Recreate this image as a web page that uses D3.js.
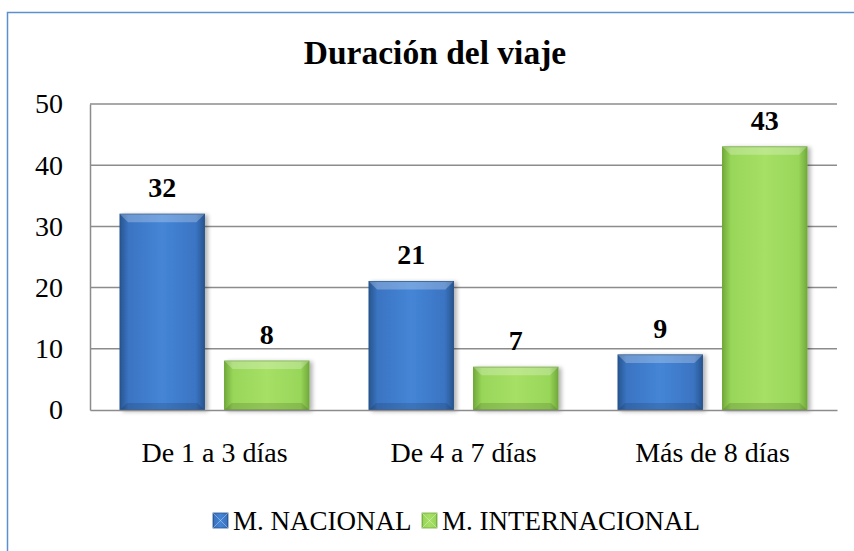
<!DOCTYPE html>
<html>
<head>
<meta charset="utf-8">
<title>Duración del viaje</title>
<script src="https://d3js.org/d3.v7.min.js"></script>
<style>
  body { margin: 0; background: #fff; }
  text { font-family: "Liberation Serif", "Times New Roman", serif; fill: #000; }
</style>
</head>
<body>
<div id="chart"></div>
<script>
let w = 854, h = 551;

let categories = ["De 1 a 3 días", "De 4 a 7 días", "Más de 8 días"];
let series = ["M. NACIONAL", "M. INTERNACIONAL"];
let nacional = [32, 21, 9];
let internacional = [8, 7, 43];
let yTicks = [0, 10, 20, 30, 40, 50];

let values = [nacional, internacional];
let colors = [
  { light: "#4585d6", mid: "#3a74c2", dark: "#28558f" },
  { light: "#a6e065", mid: "#98d659", dark: "#72aa3c" }
];

let plot = { left: 90, right: 837, top: 104, bottom: 410 };
let serif = "'Liberation Serif', 'Times New Roman', serif";

let svg = d3.select("#chart").append("svg")
  .attr("width", w).attr("height", h);

// marco exterior (solo se ven arriba e izquierda)
svg.append("rect")
  .attr("x", 7.5).attr("y", 12.5)
  .attr("width", 900).attr("height", 600)
  .attr("fill", "none")
  .attr("stroke", "#5b8fd0")
  .attr("stroke-width", 1.5);

let defs = svg.append("defs");
colors.forEach(function(c, i) {
  let g = defs.append("linearGradient").attr("id", "grad" + i)
    .attr("x1", "0").attr("x2", "1").attr("y1", "0").attr("y2", "0");
  g.append("stop").attr("offset", "0%").attr("stop-color", c.dark);
  g.append("stop").attr("offset", "10%").attr("stop-color", c.mid);
  g.append("stop").attr("offset", "50%").attr("stop-color", c.light);
  g.append("stop").attr("offset", "90%").attr("stop-color", c.mid);
  g.append("stop").attr("offset", "100%").attr("stop-color", c.dark);
});
let sh = defs.append("filter").attr("id", "shadow")
  .attr("x", "-20%").attr("y", "-20%").attr("width", "150%").attr("height", "140%");
sh.append("feGaussianBlur").attr("in", "SourceAlpha").attr("stdDeviation", 2);
sh.append("feOffset").attr("dx", 3).attr("dy", 1).attr("result", "b");
sh.append("feComponentTransfer").append("feFuncA").attr("type", "linear").attr("slope", 0.3);
let m = sh.append("feMerge");
m.append("feMergeNode");
m.append("feMergeNode").attr("in", "SourceGraphic");

let x0 = d3.scaleBand().domain(categories).range([plot.left, plot.right]);
let x1 = d3.scaleBand().domain(series).range([30, x0.bandwidth() - 30])
  .paddingInner(0.192);
let y = d3.scaleLinear().domain([0, 50]).range([plot.bottom, plot.top]);

// titulo
svg.append("text")
  .attr("x", 435).attr("y", 64)
  .attr("text-anchor", "middle")
  .style("font-size", "33.5px")
  .style("font-weight", "bold")
  .text("Duración del viaje");

// lineas de division
svg.append("g").selectAll("line")
  .data(yTicks.filter(d => d > 0))
  .enter().append("line")
  .attr("x1", plot.left).attr("x2", plot.right)
  .attr("y1", d => y(d)).attr("y2", d => y(d))
  .attr("stroke", "#8c8c8c").attr("stroke-width", 1.5);

// eje y
let yAxis = svg.append("g")
  .attr("transform", "translate(" + plot.left + ",0)")
  .call(d3.axisLeft(y).tickValues(yTicks).tickSize(0).tickPadding(27));
yAxis.select(".domain").attr("stroke", "#8c8c8c").attr("stroke-width", 1.5);
yAxis.selectAll("text")
  .style("font-size", "28px")
  .style("font-family", serif)
  .attr("fill", "#000");

let rows = function(d, i) {
  return series.map(function(s, j) { return { s: s, j: j, v: values[j][i] }; });
};

// barras
let groups = svg.append("g").selectAll("g")
  .data(categories)
  .enter().append("g")
  .attr("transform", d => "translate(" + x0(d) + ",0)");

groups.selectAll("rect")
  .data(rows)
  .enter().append("rect")
  .attr("x", d => x1(d.s))
  .attr("y", d => y(d.v))
  .attr("width", x1.bandwidth())
  .attr("height", d => y(0) - y(d.v))
  .attr("fill", d => "url(#grad" + d.j + ")")
  .attr("stroke", d => colors[d.j].dark)
  .attr("stroke-width", 1)
  .attr("filter", "url(#shadow)");

// bisel superior e inferior
groups.selectAll("path.bevel")
  .data(rows)
  .enter().append("path")
  .attr("class", "bevel")
  .attr("d", function(d) {
    let bx = x1(d.s), bw = x1.bandwidth(), by = y(d.v), b = 8;
    return "M" + bx + "," + by + "L" + (bx + bw) + "," + by +
      "L" + (bx + bw - b) + "," + (by + b) + "L" + (bx + b) + "," + (by + b) + "Z";
  })
  .attr("fill", "#fff").attr("fill-opacity", 0.25);
groups.selectAll("path.bevelb")
  .data(rows)
  .enter().append("path")
  .attr("class", "bevelb")
  .attr("d", function(d) {
    let bx = x1(d.s), bw = x1.bandwidth(), by = y(0), b = 7;
    return "M" + bx + "," + by + "L" + (bx + bw) + "," + by +
      "L" + (bx + bw - b) + "," + (by - b) + "L" + (bx + b) + "," + (by - b) + "Z";
  })
  .attr("fill", "#000").attr("fill-opacity", 0.12);

// etiquetas de valor
groups.selectAll("text")
  .data(rows)
  .enter().append("text")
  .attr("x", d => x1(d.s) + x1.bandwidth() / 2)
  .attr("y", d => y(d.v) - 17)
  .attr("text-anchor", "middle")
  .style("font-size", "28px")
  .style("font-weight", "bold")
  .text(d => d.v);

// eje x
let xAxis = svg.append("g")
  .attr("transform", "translate(0," + plot.bottom + ")")
  .call(d3.axisBottom(x0).tickSize(0).tickPadding(32));
xAxis.select(".domain").attr("stroke", "#8c8c8c").attr("stroke-width", 1.5);
xAxis.selectAll("text")
  .style("font-size", "28px")
  .style("font-family", serif)
  .attr("fill", "#000");

// leyenda
let legendX = [213, 422];
let legend = svg.append("g").selectAll("g")
  .data(series)
  .enter().append("g")
  .attr("transform", (d, i) => "translate(" + legendX[i] + ",513)");
legend.append("rect")
  .attr("width", 15).attr("height", 15)
  .attr("fill", (d, i) => "url(#grad" + i + ")")
  .attr("stroke", (d, i) => colors[i].dark).attr("stroke-width", 0.8);
legend.append("path")
  .attr("d", "M0,0L15,15M15,0L0,15")
  .attr("stroke", "#fff").attr("stroke-opacity", 0.35).attr("stroke-width", 1);
legend.append("text")
  .attr("x", 20).attr("y", 17)
  .style("font-size", "27px")
  .text(d => d);
</script>
</body>
</html>
